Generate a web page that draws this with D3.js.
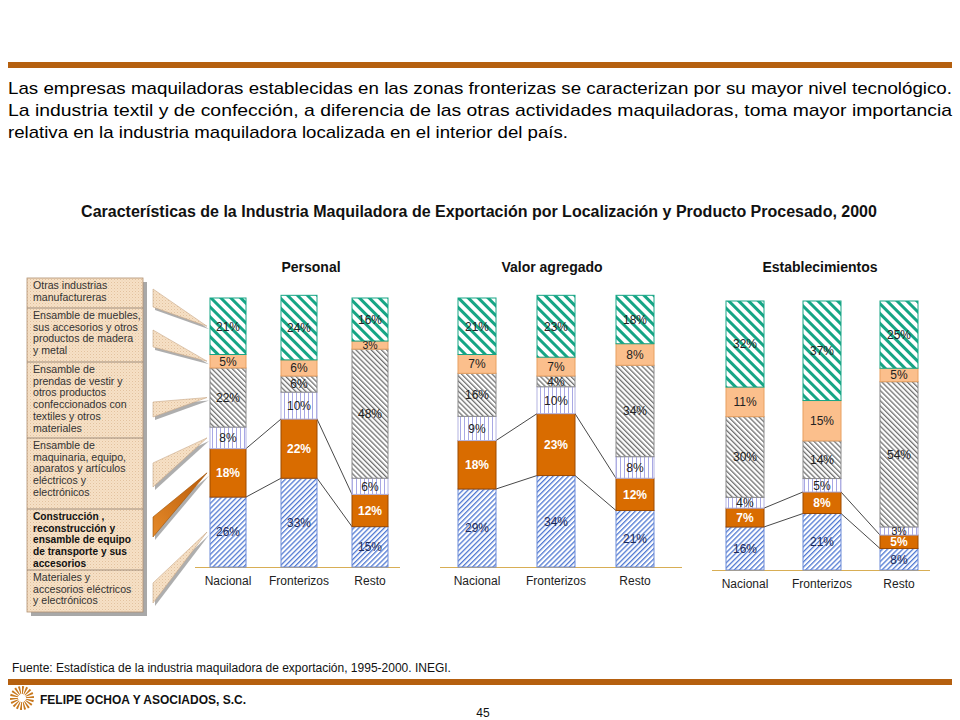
<!DOCTYPE html>
<html lang="es">
<head>
<meta charset="utf-8">
<title>Industria Maquiladora de Exportación</title>
<script src="https://cdn.jsdelivr.net/npm/d3@7/dist/d3.min.js"></script>
<style>
  body { margin: 0; background: #fff; }
  svg { display: block; font-family: "Liberation Sans", Arial, sans-serif; }
</style>
</head>
<body>
<script>
// categorias y paneles
const categories = ["Nacional", "Fronterizos", "Resto"];
const panels = ["Personal", "Valor agregado", "Establecimientos"];

// orden de abajo hacia arriba: materiales, construcción, maquinaria, prendas, muebles, otras
const personal = [[26, 18, 8, 22, 5, 21], [33, 22, 10, 6, 6, 24], [15, 12, 6, 48, 3, 16]];
const valorAgregado = [[29, 18, 9, 16, 7, 21], [34, 23, 10, 4, 7, 23], [21, 12, 8, 34, 8, 18]];
const establecimientos = [[16, 7, 4, 30, 11, 32], [21, 8, 5, 14, 15, 37], [8, 5, 3, 54, 5, 25]];
const panelData = [personal, valorAgregado, establecimientos];

// leyenda (de arriba hacia abajo)
const legendLines = [
  ["Otras industrias", "manufactureras"],
  ["Ensamble de muebles,", "sus accesorios y otros", "productos de madera", "y metal"],
  ["Ensamble de", "prendas de vestir y", "otros productos", "confeccionados con", "textiles y otros", "materiales"],
  ["Ensamble de", "maquinaria, equipo,", "aparatos y artículos", "eléctricos y", "electrónicos"],
  ["Construcción ,", "reconstrucción y", "ensamble de equipo", "de transporte y sus", "accesorios"],
  ["Materiales y", "accesorios eléctricos", "y electrónicos"]
];

const paragraph = [
  "Las empresas maquiladoras establecidas en las zonas fronterizas se caracterizan por su mayor nivel tecnológico.",
  "La industria textil y de confección, a diferencia de las otras actividades maquiladoras, toma mayor importancia",
  "relativa en la industria maquiladora localizada en el interior del país."
];

const w = 960, h = 720;
const svg = d3.select("body").append("svg").attr("width", w).attr("height", h);
const defs = svg.append("defs");

// patrones de relleno
function stripes(id, size, lineW, color, angle) {
  const p = defs.append("pattern").attr("id", id)
    .attr("patternUnits", "userSpaceOnUse")
    .attr("width", size).attr("height", size)
    .attr("patternTransform", "rotate(" + angle + ")");
  p.append("rect").attr("width", size).attr("height", size).attr("fill", "#fff");
  p.append("rect").attr("width", lineW).attr("height", size).attr("fill", color);
}
stripes("pMat", 3.6, 1.3, "#4f78d2", 45);
stripes("pMaq", 4, 1, "#a8a8e4", 0);
stripes("pPre", 3.6, 1.3, "#707070", -45);
stripes("pOtr", 7, 3, "#16a585", -45);

const paper = defs.append("pattern").attr("id", "paper")
  .attr("patternUnits", "userSpaceOnUse").attr("width", 3).attr("height", 3);
paper.append("rect").attr("width", 3).attr("height", 3).attr("fill", "#f6e0c6");
paper.append("rect").attr("width", 1).attr("height", 1).attr("fill", "#e2c29e");
paper.append("rect").attr("x", 1.5).attr("y", 1.5).attr("width", 1).attr("height", 1).attr("fill", "#ecd0b0");

const grad = defs.append("linearGradient").attr("id", "gOrange")
  .attr("x1", "0%").attr("y1", "100%").attr("x2", "100%").attr("y2", "0%");
grad.append("stop").attr("offset", "0%").attr("stop-color", "#e58a2a");
grad.append("stop").attr("offset", "100%").attr("stop-color", "#b85a08");

const segFill = ["url(#pMat)", "#d96c00", "url(#pMaq)", "url(#pPre)", "#fbbf8c", "url(#pOtr)"];
const segStroke = ["#6d8bd8", "#9c4a00", "#b4b4e2", "#8a8a8a", "#e8a060", "#16a585"];
const segText = ["#1c2a5a", "#fff", "#222", "#222", "#222", "#222"];

// encabezado
svg.append("rect").attr("x", 8).attr("y", 62).attr("width", 944).attr("height", 6).attr("fill", "#b5600f");
svg.selectAll("text.par").data(paragraph).enter().append("text")
  .attr("class", "par")
  .attr("x", 8)
  .attr("y", (d, i) => 94 + i * 22)
  .attr("font-size", 17)
  .attr("font-family", "'Liberation Sans Narrow', 'Arial Narrow', 'Liberation Sans', Arial, sans-serif")
  .attr("fill", "#000")
  .attr("textLength", (d, i) => i < 2 ? 944 : 560)
  .attr("lengthAdjust", "spacingAndGlyphs")
  .text(d => d);

svg.append("text").attr("x", 479).attr("y", 217).attr("text-anchor", "middle")
  .attr("font-size", 16).attr("font-weight", "bold").attr("fill", "#111")
  .text("Características de la Industria Maquiladora de Exportación por Localización y Producto Procesado, 2000");

// geometria de paneles
const layout = [
  { range: [228, 370], bw: 36, bottom: 567, base: [195, 400], head: 311 },
  { range: [477, 635], bw: 38, bottom: 567, base: [440, 682], head: 552 },
  { range: [745, 899], bw: 38, bottom: 570, base: [712, 930], head: 820 }
];

let firstY = null;

panelData.forEach(function (data, p) {
  const L = layout[p];
  const xScale = d3.scalePoint().domain(categories).range(L.range);
  const yScale = d3.scaleLinear().domain([0, 100]).range([L.bottom, L.bottom - 269]);
  if (p === 0) firstY = yScale;

  const g = svg.append("g");

  g.append("line")
    .attr("x1", L.base[0]).attr("x2", L.base[1])
    .attr("y1", L.bottom + 0.5).attr("y2", L.bottom + 0.5)
    .attr("stroke", "#d8ae55").attr("stroke-width", 1.2);

  g.append("text").attr("x", L.head).attr("y", 272).attr("text-anchor", "middle")
    .attr("font-size", 14).attr("font-weight", "bold").attr("fill", "#111")
    .text(panels[p]);

  const stacked = data.map(function (vals, c) {
    let acc = 0;
    return vals.map(function (v, s) {
      const seg = { cat: categories[c], s: s, v: v, y0: acc, y1: acc + v };
      acc += v;
      return seg;
    });
  });

  // lineas de conexión para el segmento de construcción
  for (let c = 0; c < categories.length - 1; c++) {
    const a = stacked[c][1], b = stacked[c + 1][1];
    ["y1", "y0"].forEach(function (k) {
      g.append("line")
        .attr("x1", xScale(a.cat) + L.bw / 2).attr("y1", yScale(a[k]))
        .attr("x2", xScale(b.cat) - L.bw / 2).attr("y2", yScale(b[k]))
        .attr("stroke", "#333").attr("stroke-width", 0.9);
    });
  }

  const segs = stacked.flat();
  g.selectAll("rect.seg").data(segs).enter().append("rect")
    .attr("class", "seg")
    .attr("x", d => xScale(d.cat) - L.bw / 2)
    .attr("y", d => yScale(d.y1))
    .attr("width", L.bw)
    .attr("height", d => yScale(d.y0) - yScale(d.y1))
    .attr("fill", d => segFill[d.s])
    .attr("stroke", d => segStroke[d.s])
    .attr("stroke-width", 1);

  g.selectAll("text.lab").data(segs).enter().append("text")
    .attr("class", "lab")
    .attr("x", d => xScale(d.cat))
    .attr("y", d => (yScale(d.y0) + yScale(d.y1)) / 2)
    .attr("dy", "0.36em")
    .attr("text-anchor", "middle")
    .attr("font-size", d => d.v <= 3 ? 10.5 : 12)
    .attr("font-weight", d => d.s === 1 ? "bold" : "normal")
    .attr("fill", d => segText[d.s])
    .text(d => d.v + "%");

  g.selectAll("text.cat").data(categories).enter().append("text")
    .attr("class", "cat")
    .attr("x", d => xScale(d))
    .attr("y", L.bottom + 18)
    .attr("text-anchor", "middle")
    .attr("font-size", 12)
    .attr("fill", "#222")
    .text(d => d);
});

// leyenda
const rowEdges = [278, 308, 362, 438, 509, 570, 612];
const lg = svg.append("g");
lg.append("rect").attr("x", 31).attr("y", rowEdges[0] + 4).attr("width", 116)
  .attr("height", rowEdges[6] - rowEdges[0]).attr("fill", "#a8a8a8");
lg.append("rect").attr("x", 27).attr("y", rowEdges[0]).attr("width", 116)
  .attr("height", rowEdges[6] - rowEdges[0]).attr("fill", "url(#paper)")
  .attr("stroke", "#b09070").attr("stroke-width", 0.8);
legendLines.forEach(function (lines, r) {
  if (r > 0) {
    lg.append("line").attr("x1", 27).attr("x2", 143)
      .attr("y1", rowEdges[r]).attr("y2", rowEdges[r])
      .attr("stroke", "#8a7a6a").attr("stroke-width", 0.8);
  }
  lg.selectAll(null).data(lines).enter().append("text")
    .attr("x", 33)
    .attr("y", (d, i) => rowEdges[r] + 11 + i * 11.7)
    .attr("font-size", r === 4 ? 10.2 : 10.6)
    .attr("font-weight", r === 4 ? "bold" : "normal")
    .attr("fill", r === 4 ? "#111" : "#333")
    .text(d => d);
});

// cuñas que apuntan a la barra Nacional de Personal
const wedgeBase = [[289, 307], [330, 347], [402, 417], [463, 487], [517, 537], [583, 603]];
const nac = personal[0];
const tips = [];
let acc = 0;
nac.forEach(function (v) { tips.push(firstY(acc + v / 2)); acc += v; });
tips.reverse();
wedgeBase.forEach(function (b, r) {
  const pts = [[153, b[0]], [207, tips[r]], [153, b[1]]];
  lg.append("polygon")
    .attr("points", pts.map(q => (q[0] + 2) + "," + (q[1] + 3)).join(" "))
    .attr("fill", "#9a9a9a").attr("opacity", 0.8);
  lg.append("polygon")
    .attr("points", pts.map(q => q.join(",")).join(" "))
    .attr("fill", r === 4 ? "url(#gOrange)" : "url(#paper)")
    .attr("stroke", r === 4 ? "#a05000" : "#c8a888").attr("stroke-width", 0.6);
});

// pie de pagina
svg.append("text").attr("x", 12).attr("y", 672).attr("font-size", 12).attr("fill", "#111")
  .text("Fuente: Estadística de la industria maquiladora de exportación, 1995-2000. INEGI.");
svg.append("rect").attr("x", 8).attr("y", 679).attr("width", 944).attr("height", 6).attr("fill", "#b5600f");

const logo = svg.append("g").attr("transform", "translate(22,698)");
const arc = d3.arc().innerRadius(4).outerRadius(12);
d3.range(18).forEach(function (i) {
  const a0 = i * 2 * Math.PI / 18;
  logo.append("path")
    .attr("d", arc({ startAngle: a0, endAngle: a0 + 0.18 }))
    .attr("fill", "#c8781e");
});
svg.append("text").attr("x", 40).attr("y", 704).attr("font-size", 12).attr("font-weight", "bold")
  .attr("fill", "#111").text("FELIPE OCHOA Y ASOCIADOS, S.C.");
svg.append("text").attr("x", 483).attr("y", 717).attr("text-anchor", "middle")
  .attr("font-size", 12).attr("fill", "#111").text("45");
</script>
</body>
</html>
